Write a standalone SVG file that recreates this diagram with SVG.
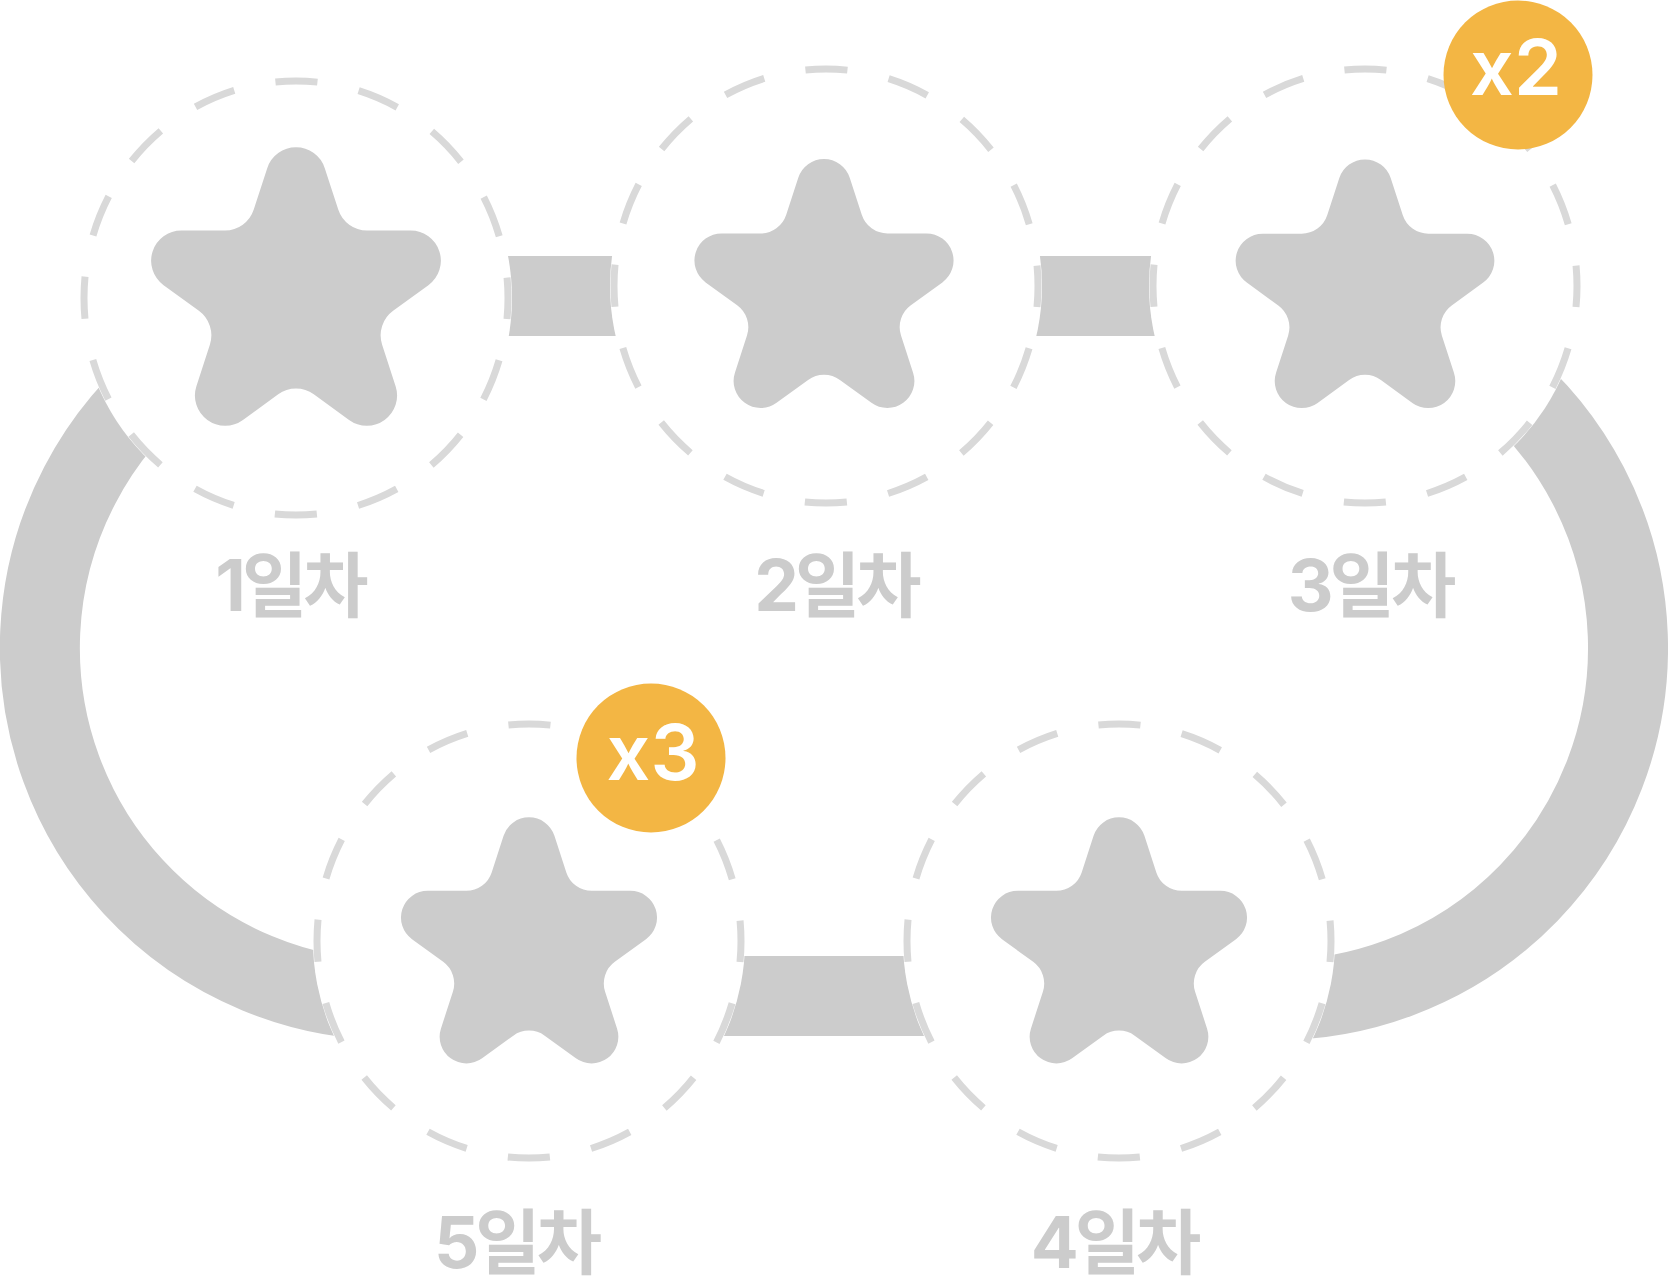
<svg xmlns="http://www.w3.org/2000/svg" xmlns:xlink="http://www.w3.org/1999/xlink" width="1668" height="1284" viewBox="0 0 1668 1284">
<style>
.band{fill:none;stroke:#cccccc;stroke-width:80}
.link{fill:#cccccc}
.disc{fill:#ffffff}
.ring{fill:none;stroke:#d9d9d9;stroke-width:7;stroke-dasharray:42.12 42.12;stroke-dashoffset:21.06}
.star{fill:#cccccc}
.label{font-family:Inter,"Noto Sans CJK KR","Noto Sans",sans-serif;font-size:71px;font-weight:700;fill:#cccccc;text-anchor:middle;letter-spacing:-4px}
.badge{fill:#f3b644}
.btxt{font-family:Inter,"Liberation Sans",sans-serif;font-size:77px;font-weight:600;fill:#ffffff;text-anchor:middle}
</style>
<defs>
<path id="star" d="M -13.172 -59.460 A 13.85 13.85 0 0 1 13.172 -59.460 L 19.342 -40.473 A 13.85 13.85 0 0 0 32.515 -30.902 L 52.480 -30.902 A 13.85 13.85 0 0 1 60.621 -5.847 L 44.468 5.888 A 13.85 13.85 0 0 0 39.437 21.374 L 45.607 40.362 A 13.85 13.85 0 0 1 24.294 55.847 L 8.141 44.112 A 13.85 13.85 0 0 0 -8.141 44.112 L -24.294 55.847 A 13.85 13.85 0 0 1 -45.607 40.362 L -39.437 21.374 A 13.85 13.85 0 0 0 -44.468 5.888 L -60.621 -5.847 A 13.85 13.85 0 0 1 -52.480 -30.902 L -32.515 -30.902 A 13.85 13.85 0 0 0 -19.342 -40.473 Z"/>
</defs>
<rect width="1668" height="1284" fill="#ffffff"/>
<g id="connectors">
<path class="band" d="M 540.76 967.0 A 352 352 0 1 1 300.9 308.0"/>
<path class="band" d="M 1361.2 306.5 A 352 352 0 1 1 1110.7 958.8"/>
<rect class="link" x="296" y="256" width="1069" height="80"/>
<rect class="link" x="529" y="956" width="590" height="80"/>
</g>
<g id="node-day1">
<ellipse class="disc" cx="296" cy="298" rx="216" ry="221"/>
<ellipse class="ring" cx="296" cy="298" rx="212" ry="217"/>
<use class="star" href="#star" transform="translate(296 298) scale(2.184)"/>
<text class="label" x="290" y="611">1일차</text>
</g>
<g id="node-day2">
<ellipse class="disc" cx="826" cy="286" rx="216" ry="221"/>
<ellipse class="ring" cx="826" cy="286" rx="212" ry="217"/>
<use class="star" href="#star" transform="translate(824 293.8) scale(1.953)"/>
<text class="label" x="836" y="611">2일차</text>
</g>
<g id="node-day3">
<ellipse class="disc" cx="1365" cy="286" rx="216" ry="221"/>
<ellipse class="ring" cx="1365" cy="286" rx="212" ry="217"/>
<use class="star" href="#star" transform="translate(1365 294) scale(1.95)"/>
<text class="label" x="1370" y="611">3일차</text>
<circle class="badge" cx="1518" cy="75" r="74.5"/>
<text class="btxt" x="1516" y="95">x2</text>
</g>
<g id="node-day4">
<ellipse class="disc" cx="1119" cy="941" rx="216" ry="221"/>
<ellipse class="ring" cx="1119" cy="941" rx="212" ry="217"/>
<use class="star" href="#star" transform="translate(1119 950.5) scale(1.93)"/>
<text class="label" x="1114" y="1268">4일차</text>
</g>
<g id="node-day5">
<ellipse class="disc" cx="529" cy="941" rx="216" ry="221"/>
<ellipse class="ring" cx="529" cy="941" rx="212" ry="217"/>
<use class="star" href="#star" transform="translate(529 950.5) scale(1.93)"/>
<text class="label" x="516" y="1268">5일차</text>
<circle class="badge" cx="651" cy="758" r="74.5"/>
<text class="btxt" x="653" y="780">x3</text>
</g>
</svg>
